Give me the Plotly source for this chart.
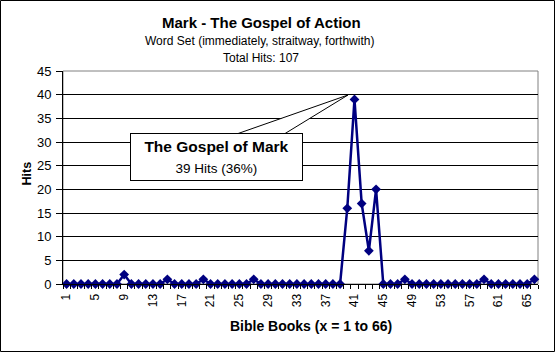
import plotly.graph_objects as go

books = list(range(1, 67))
hits = [0]*66
peaks = {9: 2, 15: 1, 20: 1, 27: 1, 40: 16, 41: 39, 42: 17, 43: 7, 44: 20, 48: 1, 59: 1, 66: 1}
for k, v in peaks.items():
    hits[k-1] = v
tick_books = list(range(1, 67, 4))
tick_labels = [str(b) for b in tick_books]

W, H = 555, 352
L, R, T, B = 63, 17, 71, 68
pw, ph = W - L - R, H - T - B

def px(X):
    return (X - L) / pw

def py(Y):
    return (H - B - Y) / ph

FONT = "Arial, Liberation Sans, sans-serif"

fig = go.Figure()
fig.add_trace(go.Scatter(
    x=books, y=hits, mode="lines+markers",
    line=dict(color="#000080", width=2.5),
    marker=dict(symbol="diamond", size=7.5, color="#000080"),
    showlegend=False, cliponaxis=False,
))

shapes = [
    dict(type="rect", xref="paper", yref="paper", x0=0, x1=1, y0=0, y1=1,
         line=dict(color="#808080", width=1), layer="below"),
    dict(type="rect", xref="paper", yref="paper", x0=px(0.5), x1=px(W - 0.5),
         y0=py(H - 0.5), y1=py(0.5), line=dict(color="black", width=1)),
    dict(type="path", xref="paper", yref="paper",
         path=f"M {px(231)} {py(136)} L {px(348)} {py(95)} L {px(281)} {py(136)} Z",
         fillcolor="white", line=dict(color="black", width=1), layer="above"),
]

def txt(text, X, Y, size, **kw):
    return dict(text=text, xref="paper", yref="paper", x=px(X), y=py(Y),
                xanchor="center", yanchor="middle", showarrow=False,
                font=dict(size=size, family=FONT, color="black"), **kw)

annotations = [
    txt("<b>Mark - The Gospel of Action</b>", 261, 22, 15),
    txt("Word Set (immediately, straitway, forthwith)", 259, 41, 12),
    txt("Total Hits: 107", 261, 58, 12),
    txt("<b>Bible Books (x = 1 to 66)</b>", 311, 326, 14),
    txt("<b>Hits</b>", 26, 173.5, 12.5, textangle=-90),
    txt("<b>The Gospel of Mark</b><br><span style='font-size:13.5px'>39 Hits (36%)</span>",
        216.5, 157, 15.5, width=169, height=44, bgcolor="white", bordercolor="black", borderwidth=1),
]

fig.update_layout(
    width=W, height=H,
    margin=dict(l=L, r=R, t=T, b=B),
    paper_bgcolor="white", plot_bgcolor="white",
    font=dict(family=FONT, size=12, color="black"),
    shapes=shapes, annotations=annotations,
    xaxis=dict(
        range=[0.5, 66.5], tickvals=tick_books, ticktext=tick_labels,
        tickangle=-90, ticks="", showgrid=False, zeroline=False,
        showline=True, linecolor="black", linewidth=1,
        tickfont=dict(size=12, family=FONT), ticklabelstandoff=4,
        minor=dict(tick0=0.5, dtick=1, ticks="outside", ticklen=4, tickcolor="black", showgrid=False),
    ),
    yaxis=dict(
        range=[0, 45], dtick=5, ticks="outside", ticklen=6, tickcolor="black",
        showgrid=True, gridcolor="black", gridwidth=1, zeroline=False,
        showline=True, linecolor="black", linewidth=1,
        tickfont=dict(size=13, family=FONT), ticklabelstandoff=2,
    ),
)

fig.write_html("out.html")
